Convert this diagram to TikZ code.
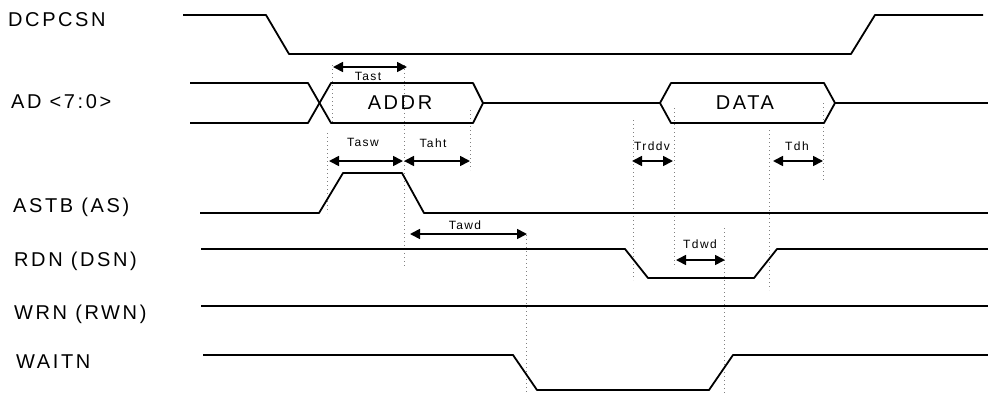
\documentclass[tikz,border=0pt]{standalone}
\usepackage{fontspec}
\setmainfont{Liberation Sans}
\newfontfamily\sigfont[LetterSpace=13]{Liberation Sans}
\newfontfamily\tfont[LetterSpace=12]{Liberation Sans}
\usetikzlibrary{arrows.meta}

\begin{document}
\begin{tikzpicture}[x=1pt,y=-1pt,line join=round,
    sig/.style={line width=1.8pt},
    guide/.style={gray,line width=0.7pt,dash pattern=on 1.2pt off 2.8pt},
    span/.style={line width=1.7pt,{Triangle[length=10pt,width=10pt]}-{Triangle[length=10pt,width=10pt]}},
    signame/.style={anchor=base west,inner sep=0pt,font=\sigfont\fontsize{20}{24}\selectfont},
    busval/.style={inner sep=0pt,font=\sigfont\fontsize{20}{24}\selectfont},
    tname/.style={inner sep=0pt,font=\tfont\fontsize{12}{14}\selectfont}]
                \useasboundingbox (0,0) rectangle (988,394);
                % dotted guides
                \draw [guide] (332,65)-- (332,123);
                \draw [guide] (404,65)-- (404,268);
                \draw [guide] (327,133)-- (327,213);
                \draw [guide] (470,110)-- (470,170);
                \draw [guide] (526,235)-- (526,394);
                \draw [guide] (633,120)-- (633,280);
                \draw [guide] (674,108)-- (674,268);
                \draw [guide] (769,130)-- (769,290);
                \draw [guide] (823,103)-- (823,180);
                \draw [guide] (724,228)-- (724,394);
                % signals
                \draw [sig] (183,15)-- (266,15)-- (289,54)-- (851,54)-- (875,15)-- (983,15);
                \draw [sig] (190,83)-- (308,83)-- (331,123)-- (473,123)-- (483,103)-- (660,103)-- (671,123)-- (824,123)-- (835,103)-- (988,103);
                \draw [sig] (190,123)-- (308,123)-- (331,83)-- (473,83)-- (483,103);
                \draw [sig] (660,103)-- (671,83)-- (824,83)-- (835,103);
                \draw [sig] (200,213)-- (319,213)-- (343,173)-- (402,173)-- (424,213)-- (988,213);
                \draw [sig] (201,249)-- (625,249)-- (648,278)-- (754,278)-- (777,249)-- (988,249);
                \draw [sig] (201,306)-- (988,306);
                \draw [sig] (203,355)-- (513,355)-- (537,390)-- (709,390)-- (733,355)-- (988,355);
                % signal names
                \node[signame] (dcpcsn) at (8,26) {DCPCSN};
                \node[signame] (ad) at (11,108) {AD <7:0>};
                \node[signame] (astb) at (13,212) {ASTB (AS)};
                \node[signame] (rdn) at (14,266) {RDN (DSN)};
                \node[signame] (wrn) at (14,319) {WRN (RWN)};
                \node[signame] (waitn) at (16,368) {WAITN};
                \node[busval] (addr) at (400,103) {ADDR};
                \node[busval] (data) at (745,103) {DATA};
                % timing spans
                \coordinate (tast-a) at (333,67);
                \coordinate (tast-b) at (407,67);
                \coordinate (tasw-a) at (329,161);
                \coordinate (tasw-b) at (403,161);
                \coordinate (taht-a) at (404,161);
                \coordinate (taht-b) at (470,161);
                \coordinate (tawd-a) at (410,234);
                \coordinate (tawd-b) at (527,234);
                \coordinate (trddv-a) at (632,161);
                \coordinate (trddv-b) at (673,161);
                \coordinate (tdh-a) at (773,161);
                \coordinate (tdh-b) at (823,161);
                \coordinate (tdwd-a) at (676,260);
                \coordinate (tdwd-b) at (725,260);
                \draw [span] (tast-a)-- (tast-b);
                \draw [span] (tasw-a)-- (tasw-b);
                \draw [span] (taht-a)-- (taht-b);
                \draw [span] (tawd-a)-- (tawd-b);
                \draw [span] (trddv-a)-- (trddv-b);
                \draw [span] (tdh-a)-- (tdh-b);
                \draw [span] (tdwd-a)-- (tdwd-b);
                \node[tname] (tast) at (368,76) {Tast};
                \node[tname] (tasw) at (363,142) {Tasw};
                \node[tname] (taht) at (433,143) {Taht};
                \node[tname] (tawd) at (465,225) {Tawd};
                \node[tname] (trddv) at (652,146) {Trddv};
                \node[tname] (tdh) at (797,146) {Tdh};
                \node[tname] (tdwd) at (700,244) {Tdwd};
            \end{tikzpicture}
\end{document}
